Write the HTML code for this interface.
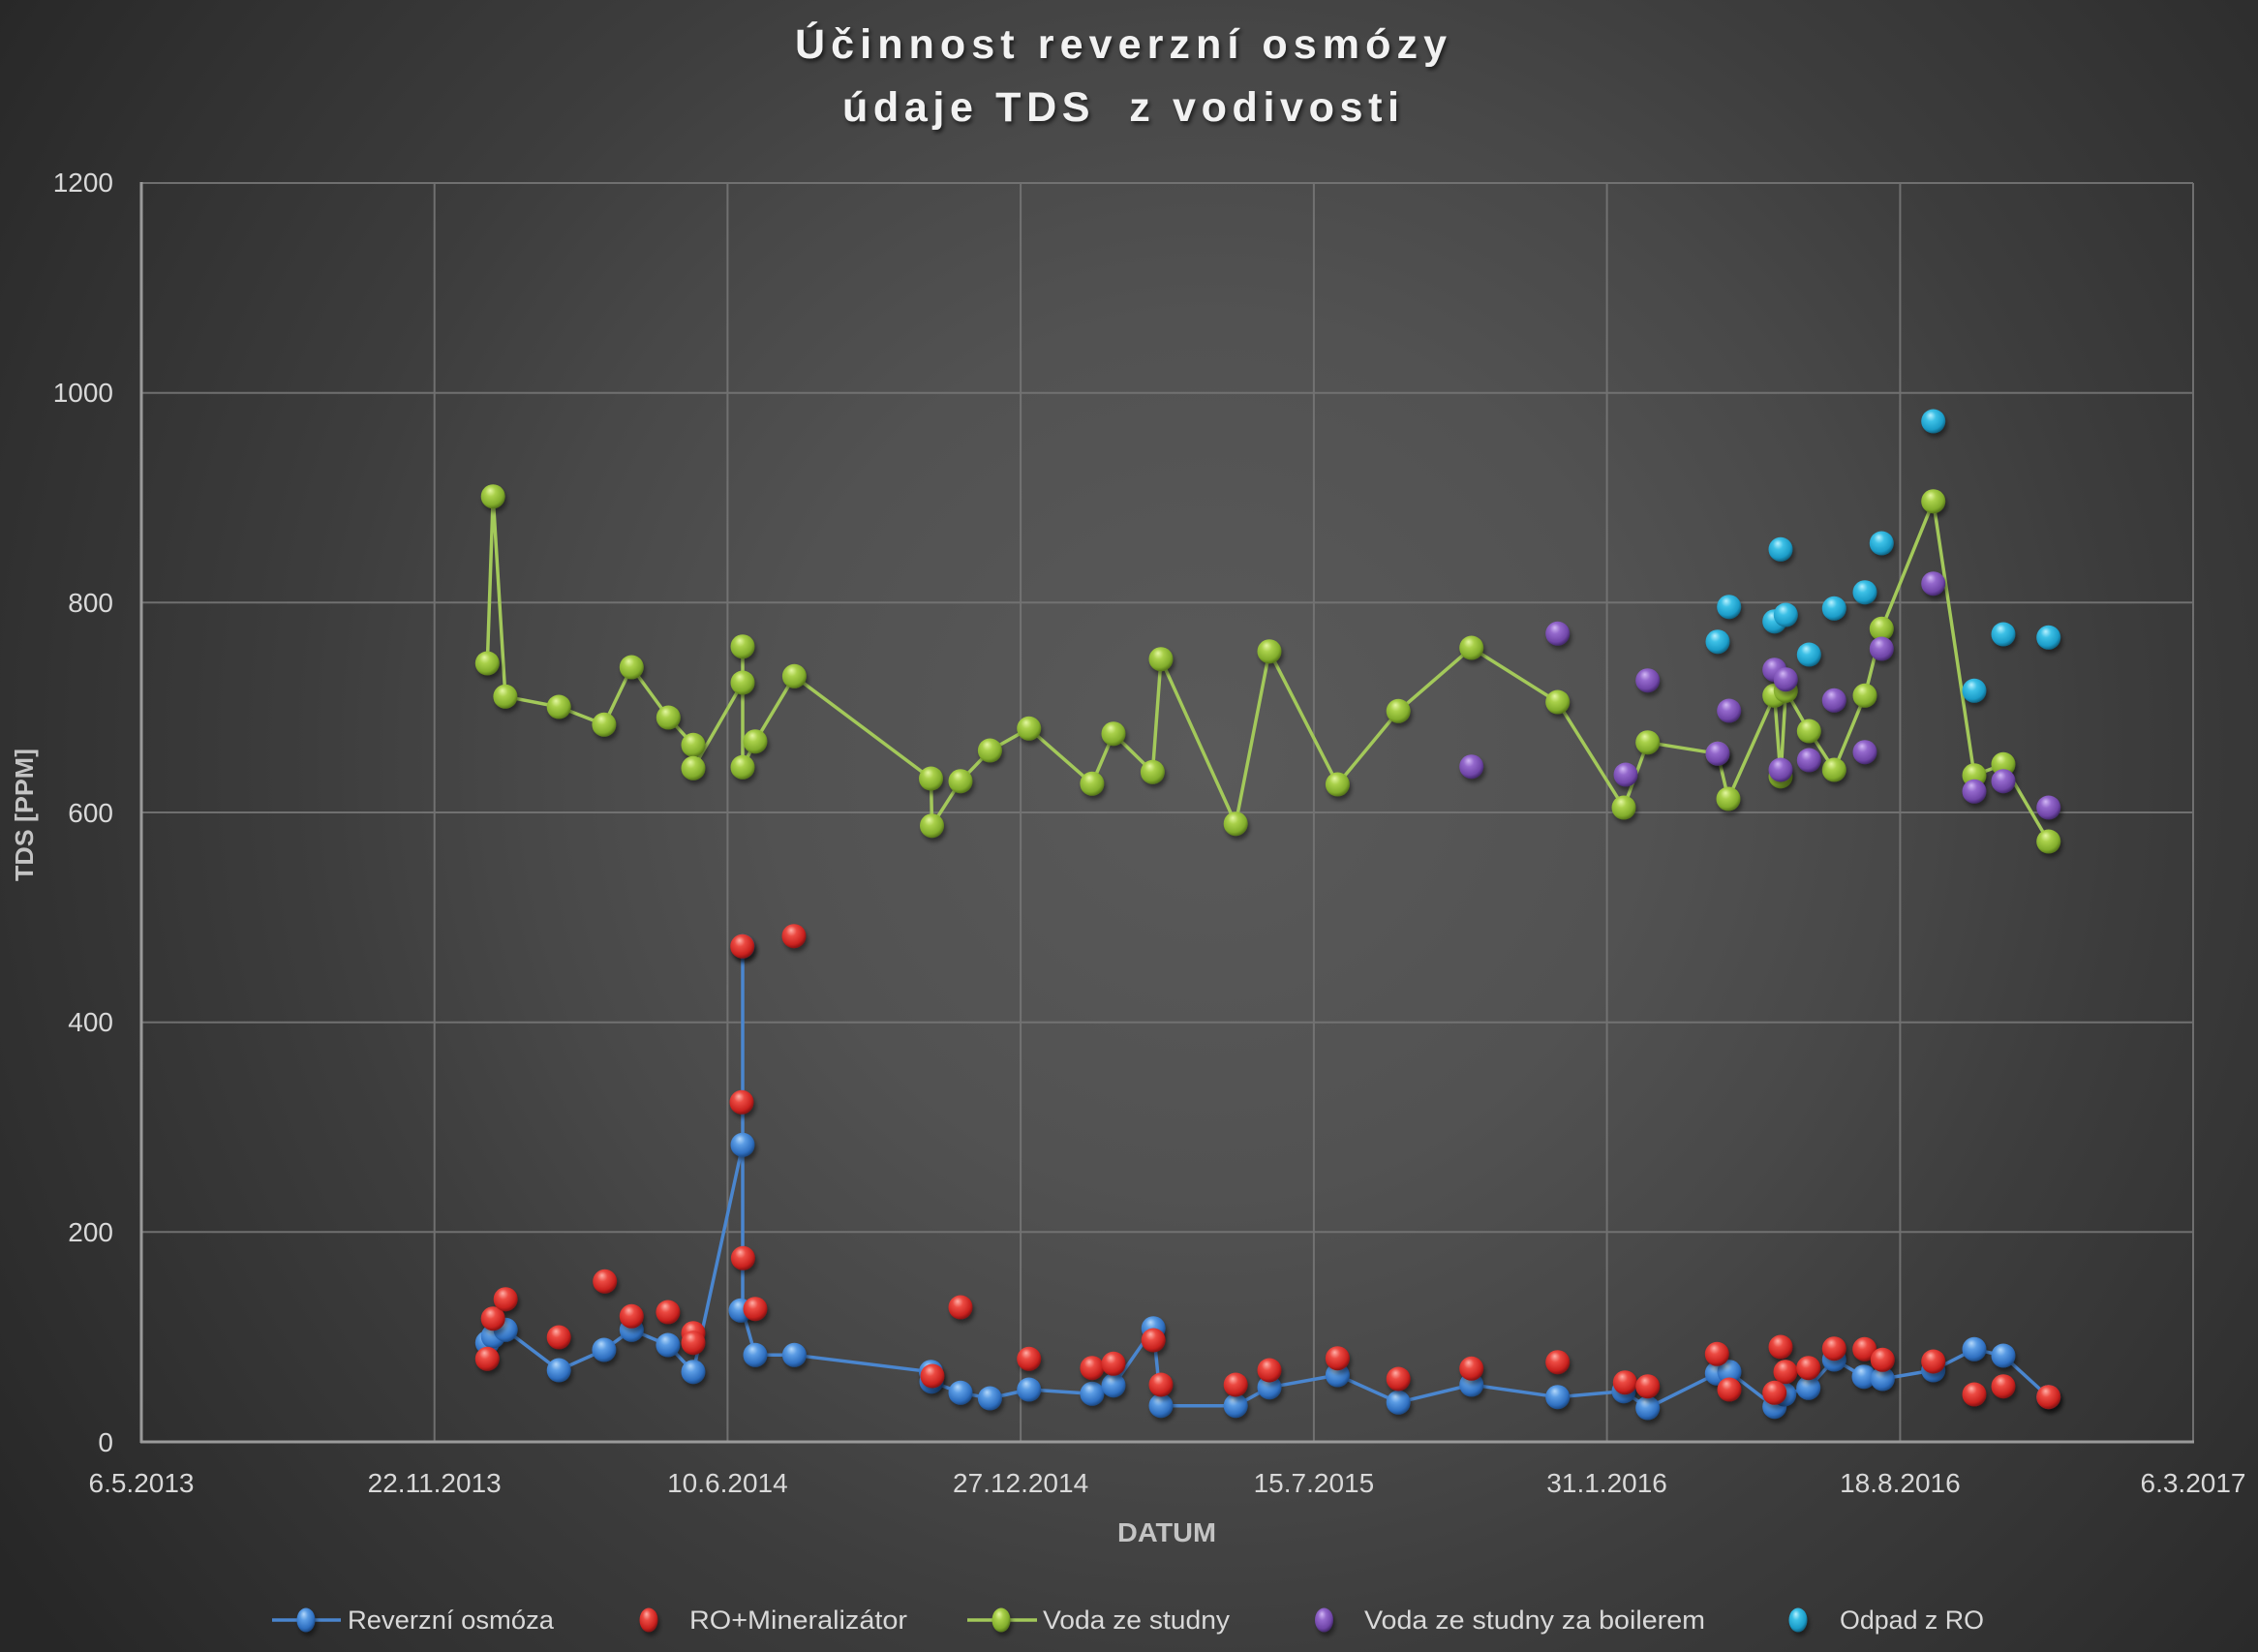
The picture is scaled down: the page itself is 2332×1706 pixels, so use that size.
<!DOCTYPE html>
<html>
<head>
<meta charset="utf-8">
<style>
html,body{margin:0;padding:0;background:#2a2a2a;}
svg{display:block;}
text{font-family:"Liberation Sans",sans-serif;}
</style>
</head>
<body>
<svg width="2332" height="1706" viewBox="0 0 2332 1706" xmlns="http://www.w3.org/2000/svg">
<defs>
  <radialGradient id="bg" gradientUnits="userSpaceOnUse" cx="1250" cy="780" r="1500">
    <stop offset="0" stop-color="#5a5a5a"/>
    <stop offset="0.3" stop-color="#525252"/>
    <stop offset="0.47" stop-color="#484848"/>
    <stop offset="0.62" stop-color="#3d3d3d"/>
    <stop offset="0.83" stop-color="#313131"/>
    <stop offset="1" stop-color="#272727"/>
  </radialGradient>
  <radialGradient id="gB" cx="0.42" cy="0.38" r="0.62" fx="0.38" fy="0.25">
    <stop offset="0" stop-color="#b4d8fa"/>
    <stop offset="0.35" stop-color="#5b9ce4"/>
    <stop offset="0.8" stop-color="#2f6fc0"/>
    <stop offset="1" stop-color="#1d4a85"/>
  </radialGradient>
  <radialGradient id="gR" cx="0.42" cy="0.38" r="0.62" fx="0.38" fy="0.25">
    <stop offset="0" stop-color="#ffb0a8"/>
    <stop offset="0.35" stop-color="#ec4a42"/>
    <stop offset="0.8" stop-color="#c9221f"/>
    <stop offset="1" stop-color="#841212"/>
  </radialGradient>
  <radialGradient id="gG" cx="0.42" cy="0.38" r="0.62" fx="0.38" fy="0.25">
    <stop offset="0" stop-color="#e4f7a2"/>
    <stop offset="0.35" stop-color="#a9d04a"/>
    <stop offset="0.8" stop-color="#82ad2c"/>
    <stop offset="1" stop-color="#55751a"/>
  </radialGradient>
  <radialGradient id="gP" cx="0.42" cy="0.38" r="0.62" fx="0.38" fy="0.25">
    <stop offset="0" stop-color="#d2b8f5"/>
    <stop offset="0.35" stop-color="#9468cc"/>
    <stop offset="0.8" stop-color="#7046a8"/>
    <stop offset="1" stop-color="#45296e"/>
  </radialGradient>
  <radialGradient id="gC" cx="0.42" cy="0.38" r="0.62" fx="0.38" fy="0.25">
    <stop offset="0" stop-color="#b8f1ff"/>
    <stop offset="0.35" stop-color="#3cc0e6"/>
    <stop offset="0.8" stop-color="#1c9cc8"/>
    <stop offset="1" stop-color="#0f6585"/>
  </radialGradient>
  <filter id="sh" x="-50%" y="-50%" width="200%" height="200%">
    <feDropShadow dx="2" dy="4" stdDeviation="2.5" flood-color="#000" flood-opacity="0.45"/>
  </filter>
  <filter id="tsh" x="-10%" y="-30%" width="120%" height="160%">
    <feDropShadow dx="2" dy="3" stdDeviation="2" flood-color="#000" flood-opacity="0.6"/>
  </filter>
</defs>

<rect x="0" y="0" width="2332" height="1706" fill="url(#bg)"/>

<!-- Title -->
<g filter="url(#tsh)" fill="#f2f2f2" font-weight="bold" font-size="43">
  <text x="821" y="60" textLength="673" lengthAdjust="spacing">Účinnost reverzní osmózy</text>
  <text x="870" y="125" textLength="575" lengthAdjust="spacing" style="white-space:pre">údaje TDS  z vodivosti</text>
</g>

<!-- Gridlines -->
<g stroke="#767676" stroke-width="2" fill="none" opacity="0.9">
  <line x1="146" y1="189" x2="2265" y2="189"/>
  <line x1="146" y1="405.7" x2="2265" y2="405.7"/>
  <line x1="146" y1="622.3" x2="2265" y2="622.3"/>
  <line x1="146" y1="839" x2="2265" y2="839"/>
  <line x1="146" y1="1055.7" x2="2265" y2="1055.7"/>
  <line x1="146" y1="1272.3" x2="2265" y2="1272.3"/>
  <line x1="448.7" y1="189" x2="448.7" y2="1489"/>
  <line x1="751.4" y1="189" x2="751.4" y2="1489"/>
  <line x1="1054.1" y1="189" x2="1054.1" y2="1489"/>
  <line x1="1356.9" y1="189" x2="1356.9" y2="1489"/>
  <line x1="1659.6" y1="189" x2="1659.6" y2="1489"/>
  <line x1="1962.4" y1="189" x2="1962.4" y2="1489"/>
  <line x1="2265" y1="189" x2="2265" y2="1489"/>
</g>
<!-- Axes -->
<g stroke="#9a9a9a" stroke-width="3" fill="none">
  <line x1="146" y1="188" x2="146" y2="1490"/>
  <line x1="145" y1="1489" x2="2266" y2="1489"/>
</g>

<!-- Y tick labels -->
<g fill="#d9d9d9" font-size="28" text-anchor="end">
  <text x="117" y="198">1200</text>
  <text x="117" y="415">1000</text>
  <text x="117" y="632">800</text>
  <text x="117" y="849">600</text>
  <text x="117" y="1065">400</text>
  <text x="117" y="1282">200</text>
  <text x="117" y="1499">0</text>
</g>
<!-- X tick labels -->
<g fill="#d9d9d9" font-size="28" text-anchor="middle">
  <text x="146" y="1541">6.5.2013</text>
  <text x="448.7" y="1541">22.11.2013</text>
  <text x="751.4" y="1541">10.6.2014</text>
  <text x="1054.1" y="1541">27.12.2014</text>
  <text x="1356.9" y="1541">15.7.2015</text>
  <text x="1659.6" y="1541">31.1.2016</text>
  <text x="1962.4" y="1541">18.8.2016</text>
  <text x="2265" y="1541">6.3.2017</text>
</g>

<!-- Axis titles -->
<text x="1154" y="1592" fill="#c4c4c4" font-size="28" font-weight="bold" textLength="102" lengthAdjust="spacingAndGlyphs">DATUM</text>
<text transform="translate(34,910) rotate(-90)" fill="#c4c4c4" font-size="26" font-weight="bold" textLength="137" lengthAdjust="spacingAndGlyphs">TDS [PPM]</text>

<!-- Blue series (Reverzní osmóza) -->
<polyline fill="none" stroke="#4a86cf" stroke-width="3.5" stroke-linejoin="round"
points="503.3,1386.7 509.2,1380 522.2,1373.3 577.2,1415 623.9,1394 652.3,1373.3 689.9,1389 716,1416.7 767,1182.3 767,977.3 767,1353.3 780,1399.3 820.4,1399.3 961.5,1416.7 962,1426.7 992,1438.3 1022.4,1444 1062.7,1435 1127.9,1439.3 1150,1430.7 1191.2,1371.7 1199,1451.7 1276.2,1451.7 1311,1432.7 1381.4,1420 1444.2,1448.3 1519.7,1430 1608.7,1442.7 1677,1436.7 1701.7,1454 1773.3,1418.3 1786,1416.7 1832.7,1452.7 1842.7,1440 1867.7,1433.3 1894.3,1404 1925,1421.7 1944.3,1424 1996.7,1415 2039,1393.3 2069,1400 2115.7,1442.7"/>
<g fill="url(#gB)" filter="url(#sh)">
<circle cx="503.3" cy="1386.7" r="12.5"/><circle cx="509.2" cy="1380" r="12.5"/><circle cx="522.2" cy="1373.3" r="12.5"/><circle cx="577.2" cy="1415" r="12.5"/><circle cx="623.9" cy="1394" r="12.5"/><circle cx="652.3" cy="1373.3" r="12.5"/><circle cx="689.9" cy="1389" r="12.5"/><circle cx="716" cy="1416.7" r="12.5"/><circle cx="767" cy="1182.3" r="12.5"/><circle cx="767" cy="977.3" r="12.5"/><circle cx="765" cy="1353.3" r="12.5"/><circle cx="780" cy="1399.3" r="12.5"/><circle cx="820.4" cy="1399.3" r="12.5"/><circle cx="961.5" cy="1416.7" r="12.5"/><circle cx="962" cy="1426.7" r="12.5"/><circle cx="992" cy="1438.3" r="12.5"/><circle cx="1022.4" cy="1444" r="12.5"/><circle cx="1062.7" cy="1435" r="12.5"/><circle cx="1127.9" cy="1439.3" r="12.5"/><circle cx="1150" cy="1430.7" r="12.5"/><circle cx="1191.2" cy="1371.7" r="12.5"/><circle cx="1199" cy="1451.7" r="12.5"/><circle cx="1276.2" cy="1451.7" r="12.5"/><circle cx="1311" cy="1432.7" r="12.5"/><circle cx="1381.4" cy="1420" r="12.5"/><circle cx="1444.2" cy="1448.3" r="12.5"/><circle cx="1519.7" cy="1430" r="12.5"/><circle cx="1608.7" cy="1442.7" r="12.5"/><circle cx="1677" cy="1436.7" r="12.5"/><circle cx="1701.7" cy="1454" r="12.5"/><circle cx="1773.3" cy="1418.3" r="12.5"/><circle cx="1786" cy="1416.7" r="12.5"/><circle cx="1832.7" cy="1452.7" r="12.5"/><circle cx="1842.7" cy="1440" r="12.5"/><circle cx="1867.7" cy="1433.3" r="12.5"/><circle cx="1894.3" cy="1404" r="12.5"/><circle cx="1925" cy="1421.7" r="12.5"/><circle cx="1944.3" cy="1424" r="12.5"/><circle cx="1996.7" cy="1415" r="12.5"/><circle cx="2039" cy="1393.3" r="12.5"/><circle cx="2069" cy="1400" r="12.5"/><circle cx="2115.7" cy="1442.7" r="12.5"/>
</g>

<!-- Red series (RO+Mineralizátor) -->
<g fill="url(#gR)" filter="url(#sh)">
<circle cx="503.3" cy="1403.3" r="12.5"/><circle cx="509.2" cy="1361.7" r="12.5"/><circle cx="522.2" cy="1341.7" r="12.5"/><circle cx="577.2" cy="1381" r="12.5"/><circle cx="624.7" cy="1323.3" r="12.5"/><circle cx="652.3" cy="1359.3" r="12.5"/><circle cx="689.9" cy="1355" r="12.5"/><circle cx="716" cy="1376.7" r="12.5"/><circle cx="716" cy="1386.7" r="12.5"/><circle cx="766.7" cy="977.3" r="12.5"/><circle cx="766" cy="1138.3" r="12.5"/><circle cx="767.4" cy="1299.3" r="12.5"/><circle cx="780" cy="1351.7" r="12.5"/><circle cx="820" cy="966.7" r="12.5"/><circle cx="963" cy="1421" r="12.5"/><circle cx="992" cy="1350" r="12.5"/><circle cx="1062.7" cy="1403.3" r="12.5"/><circle cx="1127.9" cy="1412.7" r="12.5"/><circle cx="1150" cy="1408.3" r="12.5"/><circle cx="1191.2" cy="1384" r="12.5"/><circle cx="1199" cy="1430" r="12.5"/><circle cx="1276.2" cy="1430" r="12.5"/><circle cx="1311" cy="1415" r="12.5"/><circle cx="1381.4" cy="1402.7" r="12.5"/><circle cx="1444.2" cy="1424" r="12.5"/><circle cx="1519.7" cy="1413.3" r="12.5"/><circle cx="1608.7" cy="1406.7" r="12.5"/><circle cx="1678.3" cy="1427.7" r="12.5"/><circle cx="1701.7" cy="1431.7" r="12.5"/><circle cx="1773.3" cy="1398.3" r="12.5"/><circle cx="1786" cy="1435" r="12.5"/><circle cx="1839" cy="1391" r="12.5"/><circle cx="1844" cy="1416.7" r="12.5"/><circle cx="1832.7" cy="1438.3" r="12.5"/><circle cx="1867.7" cy="1412.7" r="12.5"/><circle cx="1894.3" cy="1392.7" r="12.5"/><circle cx="1925.7" cy="1393.3" r="12.5"/><circle cx="1944.3" cy="1404.3" r="12.5"/><circle cx="1996.7" cy="1406" r="12.5"/><circle cx="2039" cy="1440" r="12.5"/><circle cx="2069" cy="1431.7" r="12.5"/><circle cx="2115.7" cy="1442.7" r="12.5"/>
</g>

<!-- Green series (Voda ze studny) -->
<polyline fill="none" stroke="#a3c95a" stroke-width="3.5" stroke-linejoin="round"
points="503.3,685 509.2,512.7 521.9,719.3 577.2,730 623.9,748.3 652.3,689 690.3,741 716,769.3 716,793.3 767,705 767,667.7 767,792.3 780,765.7 820.4,698.3 961.5,804 962.5,852.7 992,806.7 1022.4,775 1062.7,752.3 1127.9,809.3 1150,757.7 1190.4,797.3 1199,680.7 1276.2,850.7 1311,672.7 1381.4,810 1444.2,734.3 1519.7,669 1608.7,725 1677,834 1701.7,766.7 1774,778.3 1785,825 1832.7,718.3 1839,801.7 1844.3,713.3 1868.3,755 1894.3,795 1926,718.3 1943.3,649.3 1996.7,517.7 2039,800.7 2069,789.3 2115.7,869"/>
<g fill="url(#gG)" filter="url(#sh)">
<circle cx="503.3" cy="685" r="12.5"/><circle cx="509.2" cy="512.7" r="12.5"/><circle cx="521.9" cy="719.3" r="12.5"/><circle cx="577.2" cy="730" r="12.5"/><circle cx="623.9" cy="748.3" r="12.5"/><circle cx="652.3" cy="689" r="12.5"/><circle cx="690.3" cy="741" r="12.5"/><circle cx="716" cy="769.3" r="12.5"/><circle cx="716" cy="793.3" r="12.5"/><circle cx="767" cy="705" r="12.5"/><circle cx="767" cy="667.7" r="12.5"/><circle cx="767" cy="792.3" r="12.5"/><circle cx="780" cy="765.7" r="12.5"/><circle cx="820.4" cy="698.3" r="12.5"/><circle cx="961.5" cy="804" r="12.5"/><circle cx="962.5" cy="852.7" r="12.5"/><circle cx="992" cy="806.7" r="12.5"/><circle cx="1022.4" cy="775" r="12.5"/><circle cx="1062.7" cy="752.3" r="12.5"/><circle cx="1127.9" cy="809.3" r="12.5"/><circle cx="1150" cy="757.7" r="12.5"/><circle cx="1190.4" cy="797.3" r="12.5"/><circle cx="1199" cy="680.7" r="12.5"/><circle cx="1276.2" cy="850.7" r="12.5"/><circle cx="1311" cy="672.7" r="12.5"/><circle cx="1381.4" cy="810" r="12.5"/><circle cx="1444.2" cy="734.3" r="12.5"/><circle cx="1519.7" cy="669" r="12.5"/><circle cx="1608.7" cy="725" r="12.5"/><circle cx="1677" cy="834" r="12.5"/><circle cx="1701.7" cy="766.7" r="12.5"/><circle cx="1774" cy="778.3" r="12.5"/><circle cx="1785" cy="825" r="12.5"/><circle cx="1832.7" cy="718.3" r="12.5"/><circle cx="1839" cy="801.7" r="12.5"/><circle cx="1844.3" cy="713.3" r="12.5"/><circle cx="1868.3" cy="755" r="12.5"/><circle cx="1894.3" cy="795" r="12.5"/><circle cx="1926" cy="718.3" r="12.5"/><circle cx="1943.3" cy="649.3" r="12.5"/><circle cx="1996.7" cy="517.7" r="12.5"/><circle cx="2039" cy="800.7" r="12.5"/><circle cx="2069" cy="789.3" r="12.5"/><circle cx="2115.7" cy="869" r="12.5"/>
</g>

<!-- Purple series (Voda ze studny za boilerem) -->
<g fill="url(#gP)" filter="url(#sh)">
<circle cx="1519.7" cy="791.7" r="12.5"/><circle cx="1608.7" cy="654.3" r="12.5"/><circle cx="1679" cy="800" r="12.5"/><circle cx="1701.7" cy="702.7" r="12.5"/><circle cx="1774" cy="778.3" r="12.5"/><circle cx="1785.7" cy="734" r="12.5"/><circle cx="1832.7" cy="691.7" r="12.5"/><circle cx="1844.3" cy="701.7" r="12.5"/><circle cx="1839" cy="795" r="12.5"/><circle cx="1868.3" cy="785" r="12.5"/><circle cx="1894.3" cy="723.3" r="12.5"/><circle cx="1926" cy="776.7" r="12.5"/><circle cx="1943.3" cy="670" r="12.5"/><circle cx="1996.7" cy="602.7" r="12.5"/><circle cx="2039" cy="817.3" r="12.5"/><circle cx="2069" cy="806.7" r="12.5"/><circle cx="2115.7" cy="834" r="12.5"/>
</g>

<!-- Cyan series (Odpad z RO) -->
<g fill="url(#gC)" filter="url(#sh)">
<circle cx="1774" cy="662.7" r="12.5"/><circle cx="1785.7" cy="626.7" r="12.5"/><circle cx="1832.7" cy="641.7" r="12.5"/><circle cx="1844.3" cy="635" r="12.5"/><circle cx="1839" cy="567.3" r="12.5"/><circle cx="1868.3" cy="676" r="12.5"/><circle cx="1894.3" cy="628.3" r="12.5"/><circle cx="1926" cy="611.7" r="12.5"/><circle cx="1943.3" cy="561" r="12.5"/><circle cx="1996.7" cy="435" r="12.5"/><circle cx="2039" cy="713.3" r="12.5"/><circle cx="2069" cy="655" r="12.5"/><circle cx="2115.7" cy="658.3" r="12.5"/>
</g>

<!-- Legend -->
<g>
  <line x1="281" y1="1673" x2="352" y2="1673" stroke="#4a86cf" stroke-width="3.5"/>
  <ellipse cx="316" cy="1673" rx="9.5" ry="12.5" fill="url(#gB)" filter="url(#sh)"/>
  <ellipse cx="670" cy="1673" rx="9.5" ry="12.5" fill="url(#gR)" filter="url(#sh)"/>
  <line x1="999" y1="1673" x2="1071" y2="1673" stroke="#a3c95a" stroke-width="3.5"/>
  <ellipse cx="1034" cy="1673" rx="9.5" ry="12.5" fill="url(#gG)" filter="url(#sh)"/>
  <ellipse cx="1367.5" cy="1673" rx="9.5" ry="12.5" fill="url(#gP)" filter="url(#sh)"/>
  <ellipse cx="1857" cy="1673" rx="9.5" ry="12.5" fill="url(#gC)" filter="url(#sh)"/>
</g>
<g fill="#d9d9d9" font-size="27">
  <text x="359" y="1682" textLength="213" lengthAdjust="spacingAndGlyphs">Reverzní osmóza</text>
  <text x="712" y="1682" textLength="225" lengthAdjust="spacingAndGlyphs">RO+Mineralizátor</text>
  <text x="1077" y="1682" textLength="193" lengthAdjust="spacingAndGlyphs">Voda ze studny</text>
  <text x="1409" y="1682" textLength="352" lengthAdjust="spacingAndGlyphs">Voda ze studny za boilerem</text>
  <text x="1900" y="1682" textLength="149" lengthAdjust="spacingAndGlyphs">Odpad z RO</text>
</g>
</svg>
</body>
</html>
